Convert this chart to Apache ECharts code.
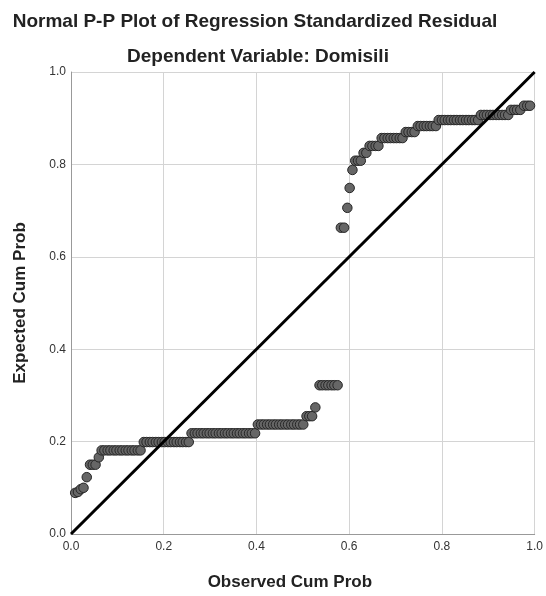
<!DOCTYPE html>
<html>
<head>
<meta charset="utf-8">
<script src="https://cdn.jsdelivr.net/npm/echarts@6/dist/echarts.min.js"></script>
<style>
  html, body { margin: 0; padding: 0; background: #fff; }
  #chart { width: 546px; height: 596px; }
</style>
</head>
<body>
<div id="chart"></div>
<script>
// observed cum prob (x) of each residual
var observed = [
  0.009, 0.015, 0.021, 0.027, 0.034, 0.041, 0.047, 0.053, 0.060,
  0.066, 0.072, 0.079, 0.085, 0.092, 0.098, 0.105, 0.111, 0.118, 0.124, 0.131, 0.137, 0.144, 0.150,
  0.157, 0.163, 0.170, 0.176, 0.183, 0.189, 0.196, 0.202, 0.209, 0.215, 0.222, 0.228, 0.235, 0.241, 0.248, 0.254,
  0.260, 0.267, 0.273, 0.280, 0.286, 0.293, 0.299, 0.306, 0.312, 0.319, 0.325, 0.332, 0.338, 0.345, 0.351, 0.358, 0.364, 0.371, 0.377, 0.384, 0.390, 0.397,
  0.403, 0.410, 0.416, 0.423, 0.429, 0.436, 0.442, 0.449, 0.455, 0.462, 0.468, 0.475, 0.481, 0.488, 0.494, 0.501,
  0.508, 0.514, 0.520, 0.527,
  0.536, 0.542, 0.549, 0.555, 0.562, 0.568, 0.575,
  0.582, 0.589, 0.596, 0.601, 0.607,
  0.613, 0.619, 0.625, 0.631, 0.637,
  0.644, 0.650, 0.657, 0.663,
  0.670, 0.676, 0.683, 0.689, 0.696, 0.702, 0.709, 0.715,
  0.722, 0.728, 0.735, 0.741,
  0.748, 0.754, 0.761, 0.767, 0.774, 0.780, 0.787,
  0.793, 0.800, 0.806, 0.813, 0.819, 0.826, 0.832, 0.839, 0.845, 0.852, 0.858, 0.865, 0.871, 0.878,
  0.884, 0.891, 0.897, 0.904, 0.910, 0.917, 0.923, 0.930, 0.936, 0.943,
  0.949, 0.956, 0.962, 0.969,
  0.977, 0.984, 0.990
];

// expected cum prob (y) for the same points
var expected = [
  0.089, 0.091, 0.097, 0.100, 0.123, 0.150, 0.150, 0.150, 0.166,
  0.181, 0.181, 0.181, 0.181, 0.181, 0.181, 0.181, 0.181, 0.181, 0.181, 0.181, 0.181, 0.181, 0.181,
  0.199, 0.199, 0.199, 0.199, 0.199, 0.199, 0.199, 0.199, 0.199, 0.199, 0.199, 0.199, 0.199, 0.199, 0.199, 0.199,
  0.218, 0.218, 0.218, 0.218, 0.218, 0.218, 0.218, 0.218, 0.218, 0.218, 0.218, 0.218, 0.218, 0.218, 0.218, 0.218, 0.218, 0.218, 0.218, 0.218, 0.218, 0.218,
  0.237, 0.237, 0.237, 0.237, 0.237, 0.237, 0.237, 0.237, 0.237, 0.237, 0.237, 0.237, 0.237, 0.237, 0.237, 0.237,
  0.255, 0.255, 0.255, 0.274,
  0.322, 0.322, 0.322, 0.322, 0.322, 0.322, 0.322,
  0.663, 0.663, 0.706, 0.749, 0.788,
  0.808, 0.808, 0.808, 0.825, 0.825,
  0.840, 0.840, 0.840, 0.840,
  0.857, 0.857, 0.857, 0.857, 0.857, 0.857, 0.857, 0.857,
  0.870, 0.870, 0.870, 0.870,
  0.883, 0.883, 0.883, 0.883, 0.883, 0.883, 0.883,
  0.896, 0.896, 0.896, 0.896, 0.896, 0.896, 0.896, 0.896, 0.896, 0.896, 0.896, 0.896, 0.896, 0.896,
  0.907, 0.907, 0.907, 0.907, 0.907, 0.907, 0.907, 0.907, 0.907, 0.907,
  0.918, 0.918, 0.918, 0.918,
  0.927, 0.927, 0.927
];

// reference diagonal (x = y)
var diagonal = [[0, 0], [1, 1]];

var points = [];
observed.forEach(function(x, i){
  points.push([x, expected[i]]);
});

var font = "'Liberation Sans', Arial, sans-serif";

var chart = echarts.init(document.getElementById("chart"));

var option = {
  animation: false,
  backgroundColor: "#fff",
  title: [{
    text: "Normal P-P Plot of Regression Standardized Residual",
    left: 250,
    top: 7,
    textAlign: "center",
    textStyle: { fontFamily: font, fontSize: 19, fontWeight: "bold", color: "#222" }
  }, {
    text: "Dependent Variable: Domisili",
    left: 253,
    top: 42,
    textAlign: "center",
    textStyle: { fontFamily: font, fontSize: 19, fontWeight: "bold", color: "#222" }
  }],
  grid: {
    left: 71,
    right: 11,
    top: 72,
    bottom: 61
  },
  xAxis: {
    type: "value",
    min: 0,
    max: 1,
    interval: 0.2,
    name: "Observed Cum Prob",
    nameLocation: "middle",
    nameGap: 40,
    nameTextStyle: { fontFamily: font, fontSize: 17, fontWeight: "bold", color: "#222", padding: [0, 26, 0, 0] },
    axisLine: { lineStyle: { color: "#999", width: 1 } },
    axisTick: { show: false },
    axisLabel: {
      fontFamily: font, fontSize: 12, color: "#333", margin: 7,
      formatter: function(v){ return v.toFixed(1); }
    },
    splitLine: { lineStyle: { color: "#d4d4d4", width: 1 } }
  },
  yAxis: {
    type: "value",
    min: 0,
    max: 1,
    interval: 0.2,
    name: "Expected Cum Prob",
    nameLocation: "middle",
    nameGap: 42,
    nameTextStyle: { fontFamily: font, fontSize: 17, fontWeight: "bold", color: "#222" },
    axisLine: { show: true, lineStyle: { color: "#999", width: 1 } },
    axisTick: { show: false },
    axisLabel: {
      fontFamily: font, fontSize: 12, color: "#333", margin: 5,
      formatter: function(v){ return v.toFixed(1); }
    },
    splitLine: { lineStyle: { color: "#d4d4d4", width: 1 } }
  },
  series: [{
    type: "scatter",
    data: points,
    symbol: "circle",
    symbolSize: 9.5,
    itemStyle: { color: "#666", borderColor: "#262626", borderWidth: 1, opacity: 1 },
    z: 2
  }, {
    type: "line",
    data: diagonal,
    showSymbol: false,
    lineStyle: { color: "#000", width: 3 },
    z: 3
  }]
};

chart.setOption(option);
</script>
</body>
</html>
